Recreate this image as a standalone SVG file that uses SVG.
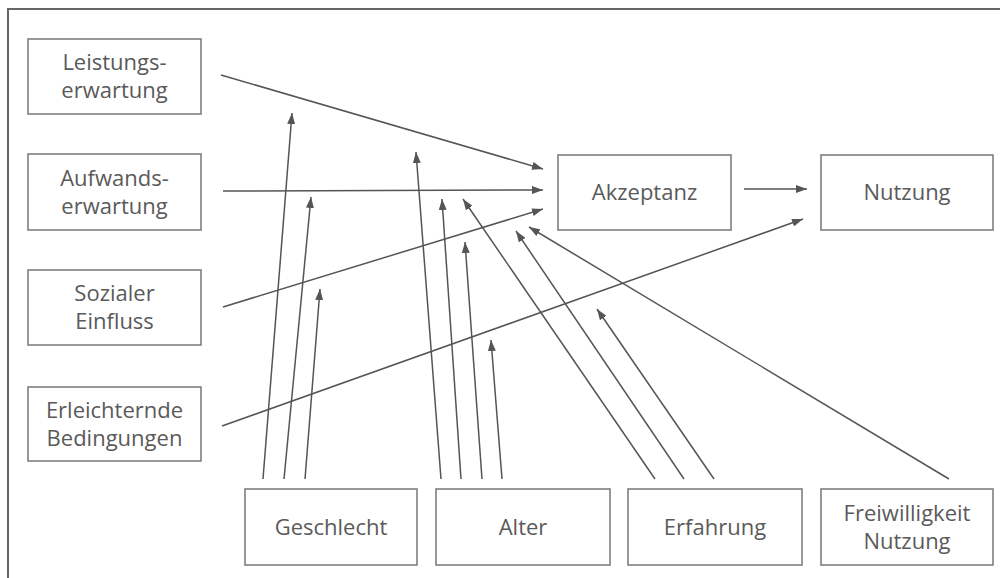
<svg xmlns="http://www.w3.org/2000/svg" width="1000" height="578" viewBox="0 0 1000 578">
<style>
.box{fill:#fff;stroke:#777;stroke-width:1.5}
.lbl{font-family:"Open Sans","Noto Sans",sans-serif;font-size:22px;fill:#5a5a5a;text-anchor:middle}
.edge{stroke:#555;stroke-width:1.5;fill:none;marker-end:url(#arr)}
</style>
<defs>
<marker id="arr" markerUnits="userSpaceOnUse" markerWidth="11" markerHeight="8" refX="11" refY="4" orient="auto">
<path d="M0,0 L11,4 L0,8 z" fill="#555"/>
</marker>
</defs>
<rect width="1000" height="578" fill="#fff"/>
<path d="M8,578 L8,9 L1000,9" fill="none" stroke="#666" stroke-width="2"/>

<g id="leistungserwartung"><rect class="box" x="28" y="39" width="173" height="75"/><text class="lbl" x="114.5" y="70">Leistungs-</text><text class="lbl" x="114.5" y="98">erwartung</text></g>
<g id="aufwandserwartung"><rect class="box" x="28" y="154" width="173" height="76"/><text class="lbl" x="114.5" y="185.5">Aufwands-</text><text class="lbl" x="114.5" y="213.5">erwartung</text></g>
<g id="sozialer-einfluss"><rect class="box" x="28" y="270" width="173" height="75"/><text class="lbl" x="114.5" y="301">Sozialer</text><text class="lbl" x="114.5" y="329">Einfluss</text></g>
<g id="erleichternde-bedingungen"><rect class="box" x="28" y="387" width="173" height="74"/><text class="lbl" x="114.5" y="417.5">Erleichternde</text><text class="lbl" x="114.5" y="445.5">Bedingungen</text></g>
<g id="akzeptanz"><rect class="box" x="558" y="155" width="173" height="75"/><text class="lbl" x="644.5" y="200">Akzeptanz</text></g>
<g id="nutzung"><rect class="box" x="821" y="155" width="172" height="75"/><text class="lbl" x="907" y="200">Nutzung</text></g>
<g id="geschlecht"><rect class="box" x="245" y="489" width="172" height="76"/><text class="lbl" x="331" y="535">Geschlecht</text></g>
<g id="alter"><rect class="box" x="436" y="489" width="174" height="76"/><text class="lbl" x="523" y="535">Alter</text></g>
<g id="erfahrung"><rect class="box" x="628" y="489" width="174" height="76"/><text class="lbl" x="715" y="535">Erfahrung</text></g>
<g id="freiwilligkeit-nutzung"><rect class="box" x="821" y="489" width="172" height="76"/><text class="lbl" x="907" y="520.5">Freiwilligkeit</text><text class="lbl" x="907" y="548.5">Nutzung</text></g>

<g id="connectors">
<line class="edge" x1="221" y1="75" x2="543" y2="169"/>
<line class="edge" x1="223" y1="191" x2="543" y2="190"/>
<line class="edge" x1="223" y1="307" x2="543" y2="209"/>
<line class="edge" x1="222" y1="426" x2="803" y2="219"/>
<line class="edge" x1="744" y1="189" x2="807" y2="189"/>
<line class="edge" x1="263" y1="479" x2="292" y2="113"/>
<line class="edge" x1="284" y1="479" x2="311" y2="197"/>
<line class="edge" x1="305" y1="479" x2="320" y2="289"/>
<line class="edge" x1="441" y1="479" x2="416" y2="152"/>
<line class="edge" x1="461" y1="479" x2="442" y2="199"/>
<line class="edge" x1="482" y1="479" x2="465" y2="242"/>
<line class="edge" x1="502" y1="479" x2="491" y2="340"/>
<line class="edge" x1="655" y1="479" x2="463" y2="199"/>
<line class="edge" x1="684" y1="479" x2="516" y2="231"/>
<line class="edge" x1="714" y1="479" x2="597" y2="309"/>
<line class="edge" x1="949" y1="479" x2="529" y2="227"/>
</g>
</svg>
